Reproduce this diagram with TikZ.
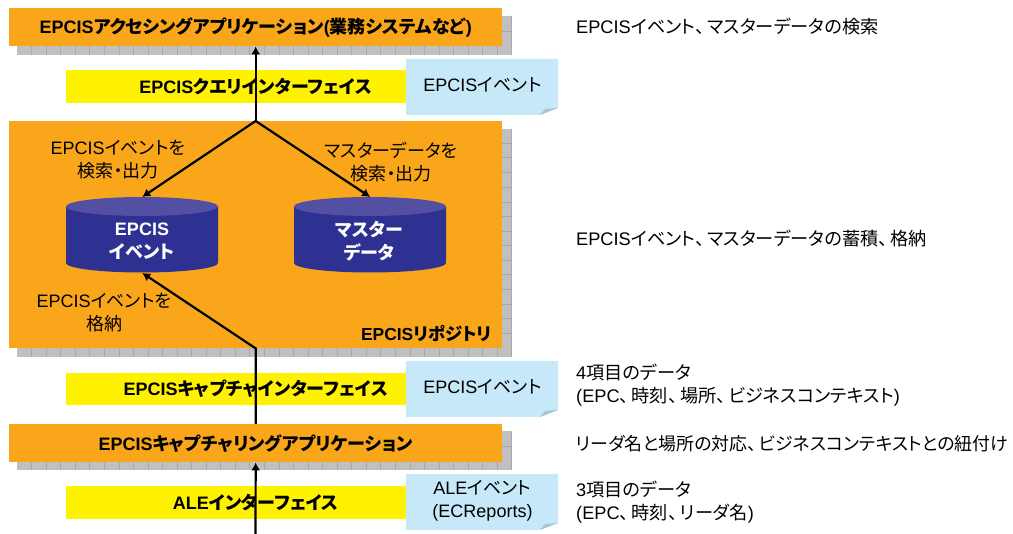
\documentclass[tikz,border=0pt]{standalone}
\usepackage{fontspec}
\usetikzlibrary{arrows.meta}
\setmainfont{Liberation Sans}
\newfontfamily\jpf[RawFeature=+palt]{Noto Sans CJK JP}
\newcommand{\J}[1]{{\jpf #1}}
\newcommand{\T}{、\kern3pt\relax}
\definecolor{orangebox}{HTML}{FAA61A}
\definecolor{yellowbox}{HTML}{FFF200}
\definecolor{notebox}{HTML}{C7E8F9}
\definecolor{notefold}{HTML}{A9C4D6}
\definecolor{shadowgray}{HTML}{C0C0C0}
\definecolor{shadowline}{HTML}{A8A8A8}
\definecolor{dbbody}{HTML}{2E3192}
\definecolor{dbtop}{HTML}{5350A4}
\tikzset{
  x=1pt,y=-1pt,
  orangenode/.style={fill=orangebox,anchor=north west,inner sep=0pt,minimum width=493pt,align=center},
  yellownode/.style={fill=yellowbox,anchor=north west,inner sep=0pt,minimum width=379pt,align=center},
  bigtext/.style={font=\fontsize{18}{23}\selectfont\bfseries,text=black},
  plain/.style={font=\fontsize{18}{23}\selectfont,text=black,align=center,inner sep=0pt},
  sidetext/.style={font=\fontsize{18.2}{23}\selectfont,text=black,align=left,anchor=west,inner sep=0pt},
  dbnode/.style={anchor=north west,inner sep=0pt,minimum width=152pt,minimum height=75.5pt},
  dbtext/.style={font=\fontsize{18}{23}\selectfont\bfseries,text=white,align=center,inner sep=0pt},
  conn/.style={line width=2.2pt,black},
  connarrow/.style={conn,-{Latex[length=8pt,width=9pt]}},
}
\newcommand{\notebg}[2]{% x top
  \fill[notebox] (#1,#2) -- (#1+152,#2) -- (#1+152,#2+49) -- (#1+134,#2+56) -- (#1,#2+56) -- cycle;
  \fill[notefold] (#1+134,#2+56) -- (#1+139,#2+50) -- (#1+152,#2+49) -- cycle;
}
\newcommand{\dbshape}[2]{% x top
  \fill[dbbody] (#1,#2+9.5) -- (#1,#2+66) arc[x radius=76,y radius=9.5,start angle=180,end angle=0] -- (#1+152,#2+9.5) -- cycle;
  \fill[dbtop] (#1+76,#2+9.5) ellipse[x radius=76,y radius=9.5];
}
\begin{document}
\begin{tikzpicture}
\useasboundingbox (0,0) rectangle (1013,534);
% shadows with grid
\foreach \t/\b in {16/55,129/357,431/470}{
  \fill[shadowgray] (17,\t) rectangle (511,\b);
  \foreach \k in {0,...,33}{
    \draw[shadowline,line width=.6pt] ({31.5+14.55*\k},\t) -- ({31.5+14.55*\k},\b);
  }
}
\foreach \y in {31,143,157.6,172.1,187.3,202,216.5,231,245.6,260.2,274.8,289.3,303.9,318.4,333,446.7}{
  \draw[shadowline,line width=.6pt] (502,\y) -- (511,\y);
}
% main boxes
\node[orangenode,bigtext,minimum height=38pt] (acc) at (9,8) {EPCIS\J{アクセシングアプリケーション}(\J{業務システムなど})};
\node[yellownode,bigtext,minimum height=33pt] (qif) at (66,70) {EPCIS\J{クエリインターフェイス}};
\node[orangenode,minimum height=227pt] (repo) at (9,121) {};
\node[yellownode,bigtext,minimum height=32pt] (cif) at (66,373) {EPCIS\J{キャプチャインターフェイス}};
\node[orangenode,bigtext,minimum height=38pt] (capp) at (9,424) {EPCIS\J{キャプチャリングアプリケーション}};
\node[yellownode,bigtext,minimum height=33pt] (aif) at (66,486) {ALE\J{インターフェイス}};
% notes
\notebg{406}{59}
\notebg{406}{361}
\notebg{406}{474}
\node[plain] (n1) at (482.5,85) {EPCIS\J{イベント}};
\node[plain] (n2) at (482.5,387) {EPCIS\J{イベント}};
\node[plain] (n3) at (482.5,500.5) {ALE\J{イベント}\\(ECReports)};
% databases
\dbshape{66}{197}
\dbshape{294}{197}
\node[dbnode] (db1) at (66,197) {};
\node[dbnode] (db2) at (294,197) {};
\node[dbtext] (db1t) at (142,241.5) {EPCIS\\\J{イベント}};
\node[dbtext] (db2t) at (369.5,241.5) {\J{マスター}\\\J{データ}};
% repository labels
\node[plain] (l1) at (118,160) {EPCIS\J{イベントを}\\\J{検索・出力}};
\node[plain] (l2) at (391,162) {\J{マスターデータを}\\\J{検索・出力}};
\node[plain] (l3) at (104,312.5) {EPCIS\J{イベントを}\\\J{格納}};
\node[plain,font=\fontsize{17.4}{23}\selectfont\bfseries,anchor=east] (l4) at (492,333) {EPCIS\J{リポジトリ}};
% connectors
\coordinate (start) at (255.5,534);
\draw[connarrow] (start) -- (capp.south);
\draw[connarrow] (capp.north) -- (repo.south) -- (db1.south);
\draw[connarrow] (repo.north) -- (acc.south);
\draw[connarrow] (repo.north) -- (db1.north);
\draw[connarrow] (repo.north) -- (db2.north);
% side texts
\node[sidetext] (s1) at (576,27) {EPCIS\J{イベント\T マスターデータの検索}};
\node[sidetext] (s2) at (576,239) {EPCIS\J{イベント\T マスターデータの蓄積\T 格納}};
\node[sidetext] (s3) at (576,385.5) {4\J{項目のデータ}\\(EPC\J{\T 時刻\T 場所\T ビジネスコンテキスト})};
\node[sidetext,font=\fontsize{17.9}{23}\selectfont] (s4) at (576,444) {\J{リーダ名と場所の対応\T ビジネスコンテキストとの紐付け}};
\node[sidetext] (s5) at (576,502) {3\J{項目のデータ}\\(EPC\J{\T 時刻\T リーダ名})};
\end{tikzpicture}
\end{document}
